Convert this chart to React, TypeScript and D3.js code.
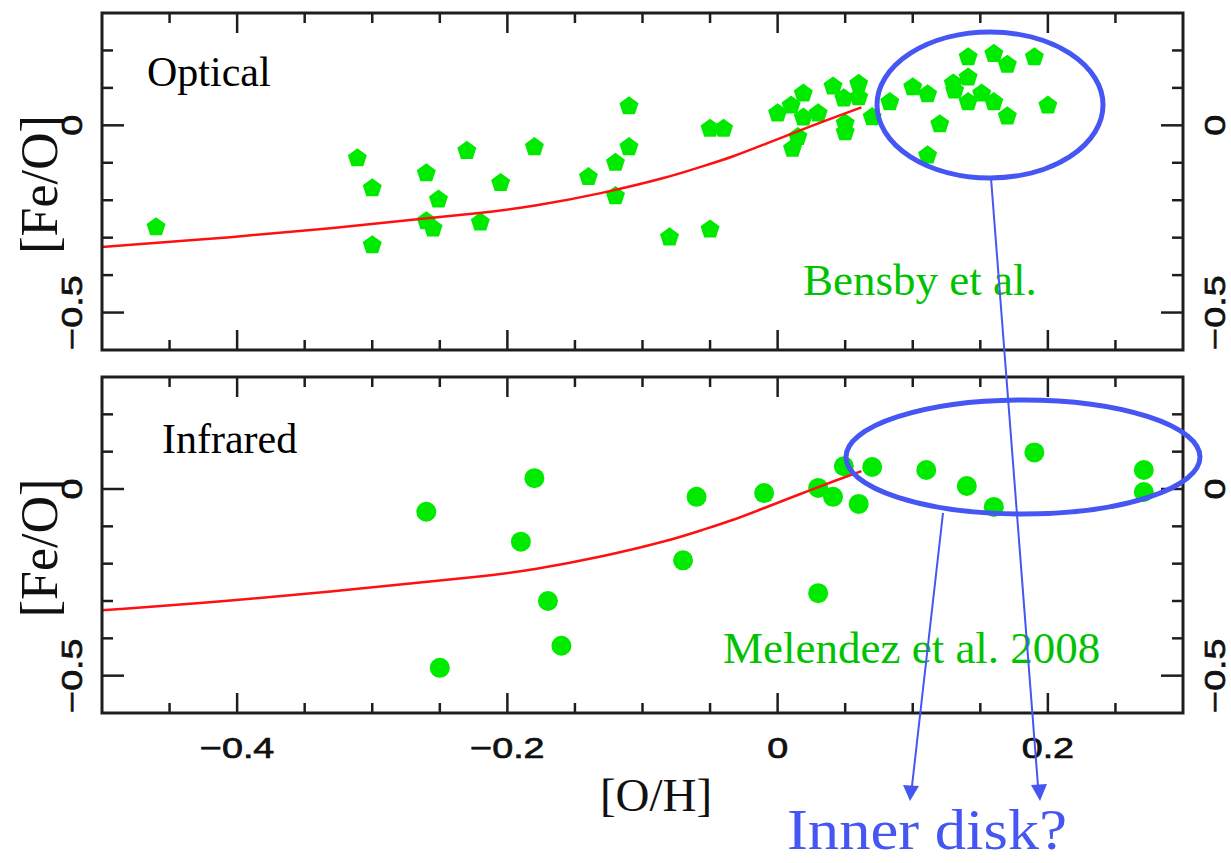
import React from "react";
import * as d3 from "d3";

// ---------- data ----------
const xDomain: [number, number] = [-0.5, 0.3];
const yDomain: [number, number] = [-0.6, 0.3];
const xMajorTicks = [-0.4, -0.2, 0, 0.2];
const xTickLabels = ["\u22120.4", "\u22120.2", "0", "0.2"];
const xMinorTicks = [-0.45, -0.35, -0.3, -0.25, -0.15, -0.1, -0.05, 0.05, 0.1, 0.15, 0.25];
const yMajorTicks = [0, -0.5];
const yTickLabels = ["0", "\u22120.5"];
const yMinorTicks = [0.2, 0.1, -0.1, -0.2, -0.3, -0.4];

// Optical (Bensby et al.) [O/H], [Fe/O]
const opticalOH = [
  -0.46, -0.311, -0.3, -0.3, -0.26, -0.251, -0.26, -0.255, -0.23, -0.22, -0.205, -0.18, -0.14, -0.12, -0.12,
  -0.11, -0.11, -0.08, -0.05, -0.05, -0.04,
  0.0, 0.01, 0.019, 0.019, 0.03, 0.015, 0.011, 0.041, 0.049, 0.06, 0.06, 0.05, 0.05, 0.07, 0.083,
  0.1, 0.111, 0.141, 0.16, 0.17, 0.19, 0.13, 0.141, 0.131, 0.141, 0.151, 0.16, 0.17, 0.2, 0.12, 0.111,
];
const opticalFeO = [
  -0.272, -0.088, -0.168, -0.32, -0.128, -0.198, -0.256, -0.275, -0.068, -0.259, -0.154, -0.058, -0.138, -0.1, -0.189,
  -0.058, 0.051, -0.299, -0.278, -0.009, -0.009,
  0.032, 0.053, 0.085, 0.021, 0.032, -0.031, -0.062, 0.104, 0.072, 0.111, 0.075, 0.005, -0.018, 0.022, 0.062,
  0.102, 0.083, 0.182, 0.191, 0.162, 0.182, 0.112, 0.128, 0.093, 0.062, 0.085, 0.062, 0.024, 0.053, 0.003, -0.08,
];

// Infrared (Melendez et al. 2008)
const irOH = [
  -0.26, -0.25, -0.19, -0.18, -0.17, -0.16, -0.07, -0.06, -0.01, 0.03, 0.03, 0.041, 0.049, 0.06, 0.07,
  0.11, 0.14, 0.16, 0.19, 0.271, 0.271,
];
const irFeO = [
  -0.061, -0.479, -0.141, 0.029, -0.3, -0.42, -0.191, -0.021, -0.011, 0.003, -0.279, -0.021, 0.061, -0.04, 0.059,
  0.051, 0.008, -0.048, 0.098, 0.051, -0.008,
];

// model curve
const modelOH = [-0.5, -0.4, -0.33, -0.265, -0.22, -0.18, -0.13, -0.08, -0.057, -0.033, -0.008, 0.017, 0.032, 0.062];
const modelFeO = [-0.325, -0.298, -0.275, -0.25, -0.235, -0.216, -0.182, -0.138, -0.111, -0.084, -0.048, -0.013, 0.008, 0.048];

// ---------- layout ----------
const W = 1231;
const H = 863;
const left = 102;
const right = 1183;
const panels = [
  { top: 13, bottom: 350, label: "Optical", labelX: 147, labelY: 86, kind: "pent" },
  { top: 377, bottom: 713, label: "Infrared", labelX: 162, labelY: 453, kind: "circ" },
];

const GREEN = "#00ea00";
const TEXTGREEN = "#00c200";
const BLUE = "#4556f2";
const AXIS = "#1e1e1e";

function pentagon(cx: number, cy: number, r: number) {
  const pts: [number, number][] = [];
  for (let i = 0; i < 5; i++) {
    const a = -Math.PI / 2 + (i * 2 * Math.PI) / 5;
    pts.push([cx + r * Math.cos(a), cy + r * Math.sin(a)]);
  }
  return "M" + pts.map((p) => p.join(",")).join("L") + "Z";
}

const x = d3.scaleLinear().domain(xDomain).range([left, right]);

const tickFont = {
  fontFamily: "'Liberation Sans', Arial, sans-serif",
  fontSize: 29,
  fill: "#111",
  stroke: "#111",
  strokeWidth: 0.7,
};

function Panel({ p, idx }: { p: (typeof panels)[number]; idx: number }) {
  const y = d3.scaleLinear().domain(yDomain).range([p.bottom, p.top]);
  const ohs = idx === 0 ? opticalOH : irOH;
  const feos = idx === 0 ? opticalFeO : irFeO;
  const line = d3
    .line<number>()
    .x((_, i) => x(modelOH[i]))
    .y((d) => y(d))
    .curve(d3.curveBasis);
  return (
    <g>
      {/* points */}
      {ohs.map((v, i) =>
        p.kind === "pent" ? (
          <path key={i} d={pentagon(x(v), y(feos[i]), 10)} fill={GREEN} />
        ) : (
          <circle key={i} cx={x(v)} cy={y(feos[i])} r={10} fill={GREEN} />
        )
      )}
      {/* model curve */}
      <path d={line(modelFeO) || ""} fill="none" stroke="#ff1010" strokeWidth={2.5} />
      {/* ticks */}
      {xMajorTicks.map((t) => (
        <g key={"xM" + t}>
          <line x1={x(t)} x2={x(t)} y1={p.top} y2={p.top + 20} stroke={AXIS} strokeWidth={2.5} />
          <line x1={x(t)} x2={x(t)} y1={p.bottom} y2={p.bottom - 20} stroke={AXIS} strokeWidth={2.5} />
        </g>
      ))}
      {xMinorTicks.map((t) => (
        <g key={"xm" + t}>
          <line x1={x(t)} x2={x(t)} y1={p.top} y2={p.top + 10} stroke={AXIS} strokeWidth={2.5} />
          <line x1={x(t)} x2={x(t)} y1={p.bottom} y2={p.bottom - 10} stroke={AXIS} strokeWidth={2.5} />
        </g>
      ))}
      {yMajorTicks.map((t) => (
        <g key={"yM" + t}>
          <line x1={left} x2={left + 22} y1={y(t)} y2={y(t)} stroke={AXIS} strokeWidth={2.5} />
          <line x1={right} x2={right - 22} y1={y(t)} y2={y(t)} stroke={AXIS} strokeWidth={2.5} />
        </g>
      ))}
      {yMinorTicks.map((t) => (
        <g key={"ym" + t}>
          <line x1={left} x2={left + 11} y1={y(t)} y2={y(t)} stroke={AXIS} strokeWidth={2.5} />
          <line x1={right} x2={right - 11} y1={y(t)} y2={y(t)} stroke={AXIS} strokeWidth={2.5} />
        </g>
      ))}
      {/* frame */}
      <rect x={left} y={p.top} width={right - left} height={p.bottom - p.top} fill="none" stroke={AXIS} strokeWidth={3} />
      {/* y tick labels, left and right */}
      {yMajorTicks.map((t, i) => (
        <g key={"yl" + t}>
          <text transform={`translate(82,${y(t)}) rotate(-90) scale(1.3,1)`} textAnchor="middle" {...tickFont}>
            {yTickLabels[i]}
          </text>
          <text transform={`translate(1225,${y(t)}) rotate(-90) scale(1.3,1)`} textAnchor="middle" {...tickFont}>
            {yTickLabels[i]}
          </text>
        </g>
      ))}
      {/* y axis title */}
      <text
        transform={`translate(57,${(p.top + p.bottom) / 2 + 3}) rotate(-90)`}
        textAnchor="middle"
        fontFamily="'Liberation Serif', 'Times New Roman', serif"
        fontSize={52}
        fill="#111"
      >
        [Fe/O]
      </text>
      {/* panel label */}
      <text x={p.labelX} y={p.labelY} fontFamily="'Liberation Serif', 'Times New Roman', serif" fontSize={42} fill="#000">
        {p.label}
      </text>
    </g>
  );
}

export default function App() {
  return (
    <svg width={W} height={H} style={{ position: "absolute", left: 0, top: 0, background: "#fff" }}>
      <rect x={0} y={0} width={W} height={H} fill="#fff" />
      {panels.map((p, i) => (
        <Panel key={i} p={p} idx={i} />
      ))}
      {/* x tick labels */}
      {xMajorTicks.map((t, i) => (
        <text key={"xl" + t} transform={`translate(${x(t)},758) scale(1.3,1)`} textAnchor="middle" {...tickFont}>
          {xTickLabels[i]}
        </text>
      ))}
      <text x={656} y={811} textAnchor="middle" fontFamily="'Liberation Serif', 'Times New Roman', serif" fontSize={47} fill="#111">
        [O/H]
      </text>

      {/* annotations */}
      <text x={803} y={295} fontFamily="'Liberation Serif', 'Times New Roman', serif" fontSize={45} fill={TEXTGREEN}>
        Bensby et al.
      </text>
      <text x={723} y={663} fontFamily="'Liberation Serif', 'Times New Roman', serif" fontSize={45} fill={TEXTGREEN}>
        Melendez et al. 2008
      </text>
      <ellipse cx={990} cy={105} rx={113} ry={73} fill="none" stroke={BLUE} strokeWidth={5} />
      <ellipse cx={1023} cy={457} rx={177} ry={57} fill="none" stroke={BLUE} strokeWidth={5} />
      <line x1={991} y1={178} x2={1038} y2={786} stroke={BLUE} strokeWidth={2} />
      <path d="M1031,785 L1047,784 L1040,801 Z" fill={BLUE} />
      <line x1={943} y1={513} x2={912} y2={786} stroke={BLUE} strokeWidth={2} />
      <path d="M903,785 L919,786 L910,801 Z" fill={BLUE} />
      <text
        x={787}
        y={849}
        fontFamily="'Liberation Serif', 'Times New Roman', serif"
        fontSize={57}
        textLength={280}
        lengthAdjust="spacingAndGlyphs"
        fill={BLUE}
      >
        Inner disk?
      </text>
    </svg>
  );
}
